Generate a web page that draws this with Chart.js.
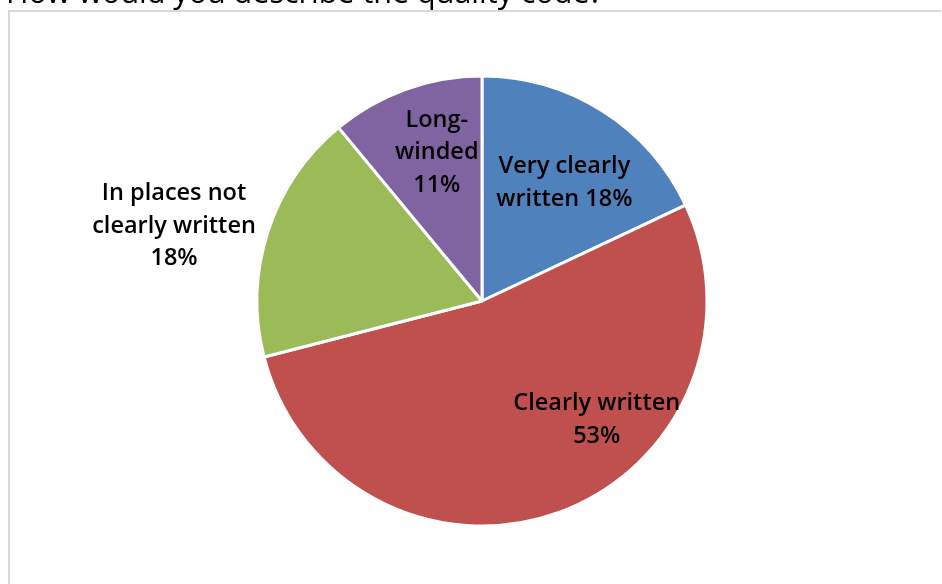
<!DOCTYPE html>
<html>
<head>
<meta charset="utf-8">
<script src="https://cdn.jsdelivr.net/npm/chart.js@4"></script>
<style>
  html, body { margin: 0; padding: 0; background: #ffffff; }
  #wrap { width: 942px; height: 584px; position: relative; }
</style>
</head>
<body>
<div id="wrap"><canvas id="c" width="942" height="584"></canvas></div>
<script>
// Survey answers and their shares (percent)
const categories = ['Very clearly written', 'Clearly written', 'In places not clearly written', 'Long-winded'];
const shares = [18, 53, 18, 11];
// Text shown on each slice, line by line
const labelLines = [
  ['Very clearly', 'written 18%'],
  ['Clearly written', '53%'],
  ['In places not', 'clearly written', '18%'],
  ['Long-', 'winded', '11%']
];
const titleText = 'How would you describe the quality code?';

const sliceColors = ['#4F81BD', '#C0504D', '#9BBB59', '#8064A2'];
// Label placement per slice: distance as a fraction of the radius, and a turn (degrees) from the slice middle
const labelPlace = [
  { r: 0.645, turn: 2.2 },
  { r: 0.73, turn: -24.5 },
  { r: 1.41, turn: -4.1 },
  { r: 0.695, turn: 3.0 }
];

const FONT = '"Open Sans", "Noto Sans", sans-serif';

const framePlugin = {
  id: 'frameAndTitle',
  beforeDraw(chart) {
    const ctx = chart.ctx;
    ctx.save();
    ctx.strokeStyle = '#d9d9d9';
    ctx.lineWidth = 2;
    ctx.beginPath();
    ctx.moveTo(9, 600);
    ctx.lineTo(9, 11);
    ctx.lineTo(941, 11);
    ctx.stroke();
    ctx.fillStyle = '#000000';
    ctx.font = '400 30.5px ' + FONT;
    ctx.textAlign = 'left';
    ctx.textBaseline = 'alphabetic';
    ctx.fillText(titleText, 6, 3);
    ctx.restore();
  }
};

const sliceLabels = {
  id: 'sliceLabels',
  afterDatasetsDraw(chart) {
    const ctx = chart.ctx;
    const meta = chart.getDatasetMeta(0);
    ctx.save();
    ctx.fillStyle = '#000000';
    ctx.font = '600 23.5px ' + FONT;
    ctx.textAlign = 'center';
    ctx.textBaseline = 'middle';
    const lh = 32.5;
    meta.data.forEach((arc, i) => {
      const p = arc.getProps(['x', 'y', 'startAngle', 'endAngle', 'outerRadius'], true);
      const mid = (p.startAngle + p.endAngle) / 2 + labelPlace[i].turn * Math.PI / 180;
      const d = p.outerRadius * labelPlace[i].r;
      const cx = p.x + Math.cos(mid) * d;
      const cy = p.y + Math.sin(mid) * d + 1.5;
      const lines = labelLines[i];
      const top = cy - (lines.length - 1) * lh / 2;
      lines.forEach((t, k) => ctx.fillText(t, cx, top + k * lh));
    });
    ctx.restore();
  }
};

new Chart(document.getElementById('c'), {
  type: 'pie',
  data: {
    labels: categories,
    datasets: [{
      data: shares,
      backgroundColor: sliceColors,
      borderColor: '#ffffff',
      borderWidth: 3,
      radius: 225
    }]
  },
  options: {
    responsive: false,
    animation: false,
    layout: { padding: { left: 22, right: 0, top: 18, bottom: 0 } },
    plugins: {
      legend: { display: false },
      tooltip: { enabled: false },
      title: { display: false }
    }
  },
  plugins: [framePlugin, sliceLabels]
});
</script>
</body>
</html>
